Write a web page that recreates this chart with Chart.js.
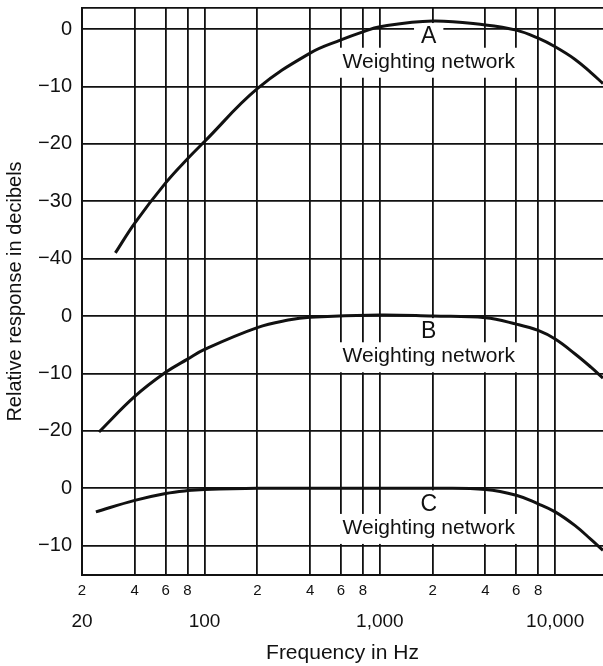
<!DOCTYPE html>
<html>
<head>
<meta charset="utf-8">
<script src="https://cdn.jsdelivr.net/npm/chart.js@4/dist/chart.umd.min.js"></script>
<style>
  html, body { margin: 0; padding: 0; background: #fff; }
  #wrap { width: 603px; height: 666px; }
</style>
</head>
<body>
<div id="wrap"><canvas id="weighting"></canvas></div>
<script>
// frequency (Hz) and relative response (dB)
const freqA = [31, 40, 60, 80, 100, 200, 400, 600, 800, 1000, 2000, 4000, 6000, 8000, 10000, 13000, 16000, 18750];
const dbA = [-39, -33.8, -26.8, -22.6, -19.6, -10.4, -4.2, -1.9, -0.5, 0.4, 1.4, 0.7, -0.2, -1.6, -3.1, -5.3, -7.6, -9.5];

const freqB = [25, 40, 60, 80, 100, 200, 300, 400, 1000, 2000, 4000, 6000, 8000, 10000, 13000, 16000, 18750];
const dbB = [-20.2, -14, -9.8, -7.5, -5.8, -2.0, -0.7, -0.2, 0.2, 0, -0.3, -1.4, -2.5, -4.0, -6.6, -8.9, -10.8];

const freqC = [24, 40, 60, 80, 100, 200, 1000, 2000, 4000, 6000, 8000, 10000, 13000, 16000, 18750];
const dbC = [-4.1, -2.1, -0.9, -0.4, -0.2, 0, 0, 0, -0.2, -1.2, -2.7, -4.1, -6.5, -8.9, -10.8];

// the three panels share one y axis, each shifted down
const panelOffset = { A: 0, B: -50, C: -80 };

const xGridFreqs = [20, 40, 60, 80, 100, 200, 400, 600, 800, 1000, 2000, 4000, 6000, 8000, 10000];
const xMinorLabels = ['2', '4', '6', '8', '', '2', '4', '6', '8', '', '2', '4', '6', '8', ''];
const xMajorFreqs = [20, 100, 1000, 10000];
const xMajorLabels = ['20', '100', '1,000', '10,000'];

const yGridValues = [0, -10, -20, -30, -40, -50, -60, -70, -80, -90];
const yTickLabels = ['0', '\u221210', '\u221220', '\u221230', '\u221240', '0', '\u221210', '\u221220', '0', '\u221210'];

const X_MIN = 20, X_MAX = 18750;
const Y_MIN = -95.1, Y_MAX = 3.66;

const networkLabels = [
    { letter: 'A', panel: 'A', freq: 1900, letterDb: -1.4, textDb: -5.7 },
    { letter: 'B', panel: 'B', freq: 1900, letterDb: -2.8, textDb: -7.0 },
    { letter: 'C', panel: 'C', freq: 1900, letterDb: -2.8, textDb: -6.9 }
];

const FONT = '"Liberation Sans", Arial, Helvetica, sans-serif';
const INK = '#111';

function toPoints(freqs, dbs, offset) {
    return freqs.map((f, i) => ({ x: f, y: dbs[i] + offset }));
}

function curve(freqs, dbs, offset) {
    return {
        data: toPoints(freqs, dbs, offset),
        borderColor: INK,
        borderWidth: 3,
        pointRadius: 0,
        fill: false,
        tension: 0.4
    };
}

const labelPlugin = {
    id: 'networkLabels',
    beforeDatasetsDraw(chart) {
        const ctx = chart.ctx;
        const xs = chart.scales.x, ys = chart.scales.y;
        ctx.save();
        ctx.textAlign = 'center';
        ctx.textBaseline = 'middle';
        networkLabels.forEach(l => {
            const off = panelOffset[l.panel];
            const px = xs.getPixelForValue(l.freq);
            const ly = ys.getPixelForValue(l.letterDb + off);
            const ty = ys.getPixelForValue(l.textDb + off);

            ctx.font = '21px ' + FONT;
            const tw = ctx.measureText('Weighting network').width;
            ctx.fillStyle = '#fff';
            ctx.fillRect(px - tw / 2 - 5, ty - 14, tw + 10, 30);

            ctx.font = '23px ' + FONT;
            const lw = ctx.measureText(l.letter).width;
            ctx.fillRect(px - lw / 2 - 7, ly - 14, lw + 14, 26);

            ctx.fillStyle = INK;
            ctx.fillText(l.letter, px, ly);
            ctx.font = '21px ' + FONT;
            ctx.fillText('Weighting network', px, ty);
        });
        ctx.restore();
    }
};

Chart.defaults.font.family = FONT;
Chart.defaults.color = INK;

const ctx = document.getElementById('weighting').getContext('2d');
new Chart(ctx, {
    type: 'line',
    data: {
        datasets: [
            curve(freqA, dbA, panelOffset.A),
            curve(freqB, dbB, panelOffset.B),
            curve(freqC, dbC, panelOffset.C)
        ]
    },
    options: {
        responsive: true,
        maintainAspectRatio: false,
        animation: false,
        layout: { padding: { top: 8, right: 0, bottom: 0, left: 0 } },
        plugins: {
            legend: { display: false },
            tooltip: { enabled: false }
        },
        scales: {
            x: {
                type: 'logarithmic',
                position: 'bottom',
                weight: 0,
                min: X_MIN,
                max: X_MAX,
                afterBuildTicks: (scale) => {
                    scale.ticks = xGridFreqs.map(v => ({ value: v }));
                },
                afterFit: (scale) => {
                    scale.height = 25;
                    scale.paddingLeft = 0;
                    scale.paddingRight = 0;
                },
                ticks: {
                    autoSkip: false,
                    maxRotation: 0,
                    minRotation: 0,
                    padding: 7,
                    font: { size: 15 },
                    callback: (value) => {
                        const i = xGridFreqs.indexOf(value);
                        return i >= 0 ? xMinorLabels[i] : '';
                    }
                },
                grid: { color: INK, lineWidth: 1.8, drawTicks: false },
                border: { color: INK, width: 2 }
            },
            x2: {
                type: 'logarithmic',
                position: 'bottom',
                weight: 1,
                min: X_MIN,
                max: X_MAX,
                afterBuildTicks: (scale) => {
                    scale.ticks = xMajorFreqs.map(v => ({ value: v }));
                },
                afterFit: (scale) => {
                    scale.height = 66;
                    scale.paddingLeft = 0;
                    scale.paddingRight = 0;
                },
                ticks: {
                    autoSkip: false,
                    maxRotation: 0,
                    minRotation: 0,
                    padding: 2,
                    font: { size: 19 },
                    callback: (value) => {
                        const i = xMajorFreqs.indexOf(value);
                        return i >= 0 ? xMajorLabels[i] : '';
                    }
                },
                grid: { display: false },
                border: { display: false },
                title: {
                    display: true,
                    text: 'Frequency in Hz',
                    font: { size: 21 },
                    padding: { top: 5, bottom: 0 }
                }
            },
            y: {
                type: 'linear',
                min: Y_MIN,
                max: Y_MAX,
                afterBuildTicks: (scale) => {
                    scale.ticks = [Y_MAX].concat(yGridValues).map(v => ({ value: v }));
                },
                afterFit: (scale) => {
                    scale.width = 82;
                    scale.paddingTop = 0;
                    scale.paddingBottom = 0;
                },
                ticks: {
                    padding: 10,
                    font: { size: 20 },
                    callback: (value) => {
                        const i = yGridValues.indexOf(value);
                        return i >= 0 ? yTickLabels[i] : '';
                    }
                },
                grid: { color: INK, lineWidth: 1.8, drawTicks: false },
                border: { color: INK, width: 2 },
                title: {
                    display: true,
                    text: 'Relative response in decibels',
                    font: { size: 20 },
                    padding: { top: 3, bottom: 0 }
                }
            }
        }
    },
    plugins: [labelPlugin]
});
</script>
</body>
</html>
